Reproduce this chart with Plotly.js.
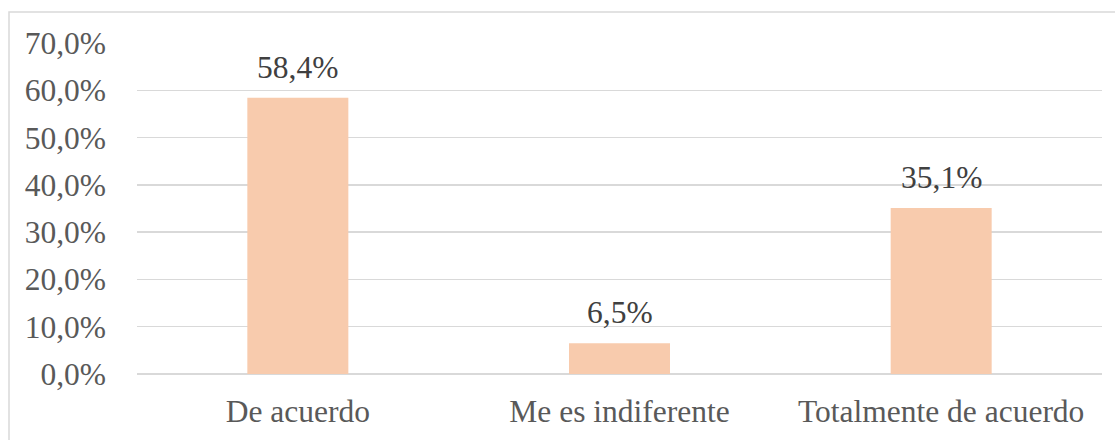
<!DOCTYPE html>
<html>
<head>
<meta charset="utf-8">
<script src="https://cdn.plot.ly/plotly-3.0.1.min.js"></script>
<style>
html,body{margin:0;padding:0;background:#fff;}
#chart{width:1115px;height:440px;}
</style>
</head>
<body>
<div id="chart"></div>
<script>
const categories = ["De acuerdo", "Me es indiferente", "Totalmente de acuerdo"];
const values = [0.584, 0.065, 0.351];
const valueLabels = ["58,4%", "6,5%", "35,1%"];

const font = "Liberation Serif";
const fsize = 31.5;

const trace = {
  type: "bar",
  x: categories,
  y: values,
  marker: {color: "#F8CBAD"},
  hoverinfo: "none"
};

const annotations = categories.map((c, i) => ({
  x: c, y: values[i], xref: "x", yref: "y",
  text: valueLabels[i],
  showarrow: false,
  yanchor: "bottom",
  yshift: 11,
  font: {family: font, size: fsize, color: "#404040"}
}));

const L = 137, R = 13, T = 43, B = 66, W = 1115, H = 440;
const pw = W - L - R, ph = H - T - B;

const layout = {
  width: W, height: H,
  margin: {l: L, r: R, t: T, b: B, pad: 0},
  paper_bgcolor: "#fff", plot_bgcolor: "#fff",
  separators: ",.",
  showlegend: false,
  bargap: 0.686,
  font: {family: font, size: fsize, color: "#595959"},
  xaxis: {
    type: "category",
    showgrid: false,
    showline: false,
    zeroline: false,
    ticks: "",
    tickfont: {family: font, size: fsize, color: "#595959"},
    ticklabelstandoff: 15
  },
  yaxis: {
    range: [0, 0.7],
    dtick: 0.1,
    tickformat: ".1%",
    showgrid: true,
    gridcolor: "#D9D9D9",
    gridwidth: 1.5,
    zeroline: true,
    zerolinecolor: "#D9D9D9",
    zerolinewidth: 1.5,
    showline: false,
    ticks: "",
    tickfont: {family: font, size: fsize, color: "#595959"},
    ticklabelstandoff: 30
  },
  annotations: annotations,
  shapes: [{
    type: "rect", xref: "paper", yref: "paper",
    x0: (9 - L) / pw, x1: (W + 20 - L) / pw,
    y0: -(H + 20 - T - ph) / ph, y1: (H - 12 - B) / ph,
    line: {color: "#D9D9D9", width: 1.5},
    fillcolor: "rgba(0,0,0,0)",
    layer: "below"
  }]
};

Plotly.newPlot("chart", [trace], layout, {staticPlot: true, displayModeBar: false});
</script>
</body>
</html>
